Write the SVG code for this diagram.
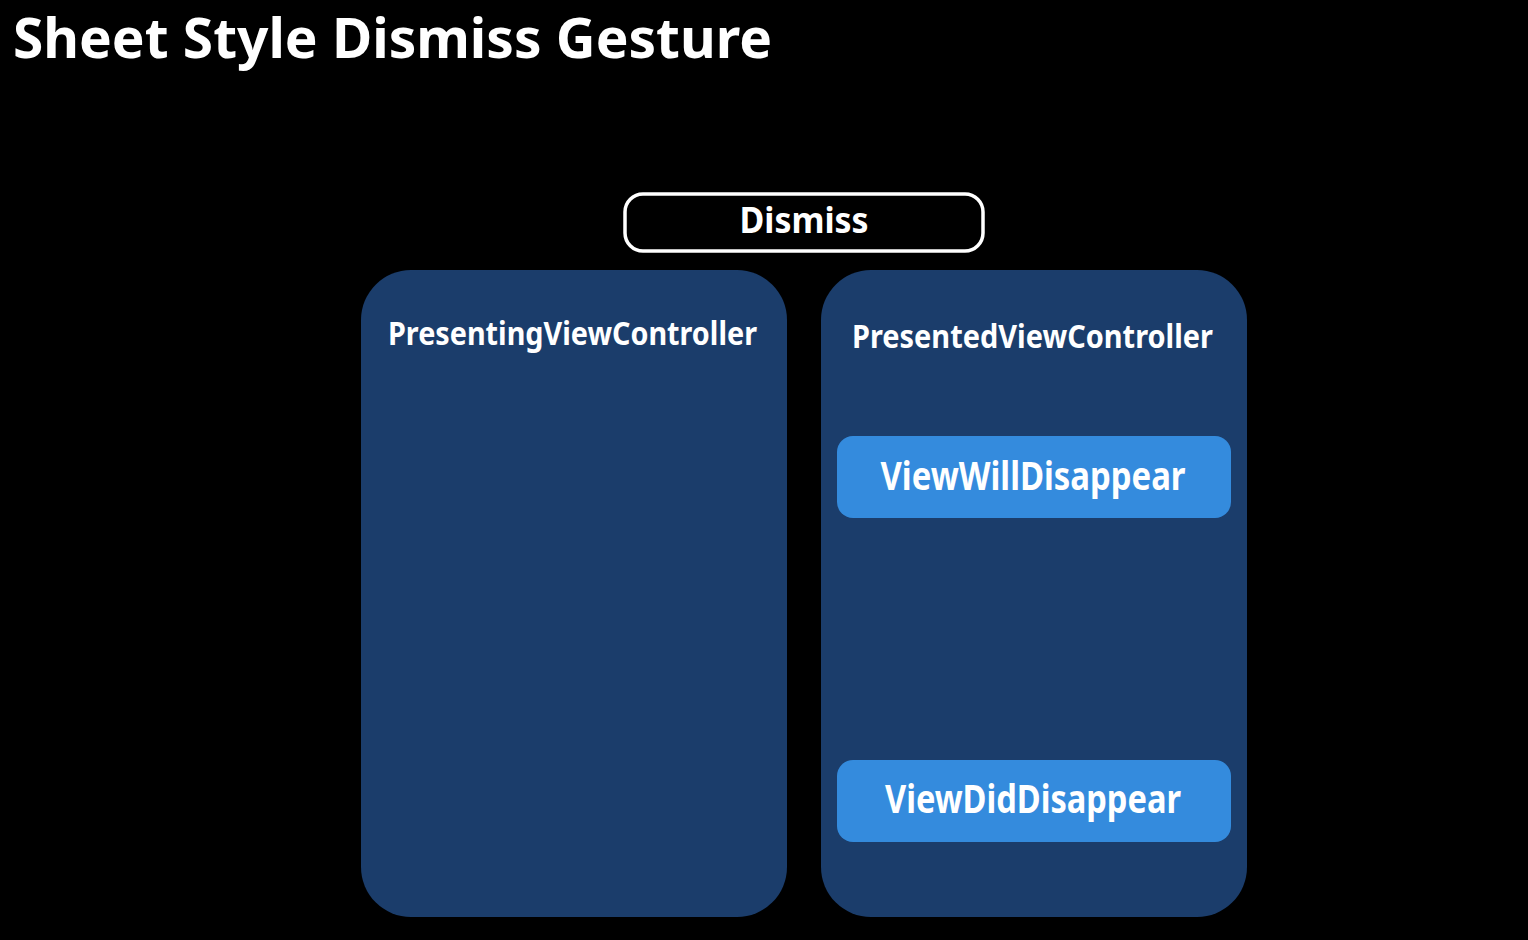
<svg xmlns="http://www.w3.org/2000/svg" width="1528" height="940" viewBox="0 0 1528 940">
<style>
.t{font-family:"Noto Sans","DejaVu Sans",sans-serif;font-weight:bold;fill:#ffffff}
.vc{fill:#1B3D6B}
.ev{fill:#348BDD}
</style>
<rect x="0" y="0" width="1528" height="940" fill="#000000"/>
<text class="t" x="13" y="58" font-size="56" textLength="759" lengthAdjust="spacingAndGlyphs">Sheet Style Dismiss Gesture</text>
<g id="dismiss">
<rect x="625" y="194" width="358" height="57" rx="18" fill="#000000" stroke="#ffffff" stroke-width="3.5"/>
<text class="t" x="804" y="233" font-size="36" text-anchor="middle" textLength="129" lengthAdjust="spacingAndGlyphs">Dismiss</text>
</g>
<g id="presenting">
<rect class="vc" x="361" y="270" width="426" height="647" rx="50"/>
<text class="t" x="572.5" y="345" font-size="33" text-anchor="middle" textLength="369" lengthAdjust="spacingAndGlyphs">PresentingViewController</text>
</g>
<g id="presented">
<rect class="vc" x="821" y="270" width="426" height="647" rx="50"/>
<text class="t" x="1032.5" y="348" font-size="33" text-anchor="middle" textLength="361" lengthAdjust="spacingAndGlyphs">PresentedViewController</text>
</g>
<g id="viewWillDisappear">
<rect class="ev" x="837" y="436" width="394" height="82" rx="16"/>
<text class="t" x="1033" y="490" font-size="39" text-anchor="middle" textLength="305" lengthAdjust="spacingAndGlyphs">ViewWillDisappear</text>
</g>
<g id="viewDidDisappear">
<rect class="ev" x="837" y="760" width="394" height="82" rx="16"/>
<text class="t" x="1033" y="813" font-size="39" text-anchor="middle" textLength="296" lengthAdjust="spacingAndGlyphs">ViewDidDisappear</text>
</g>
<g id="connectors"></g>
</svg>
